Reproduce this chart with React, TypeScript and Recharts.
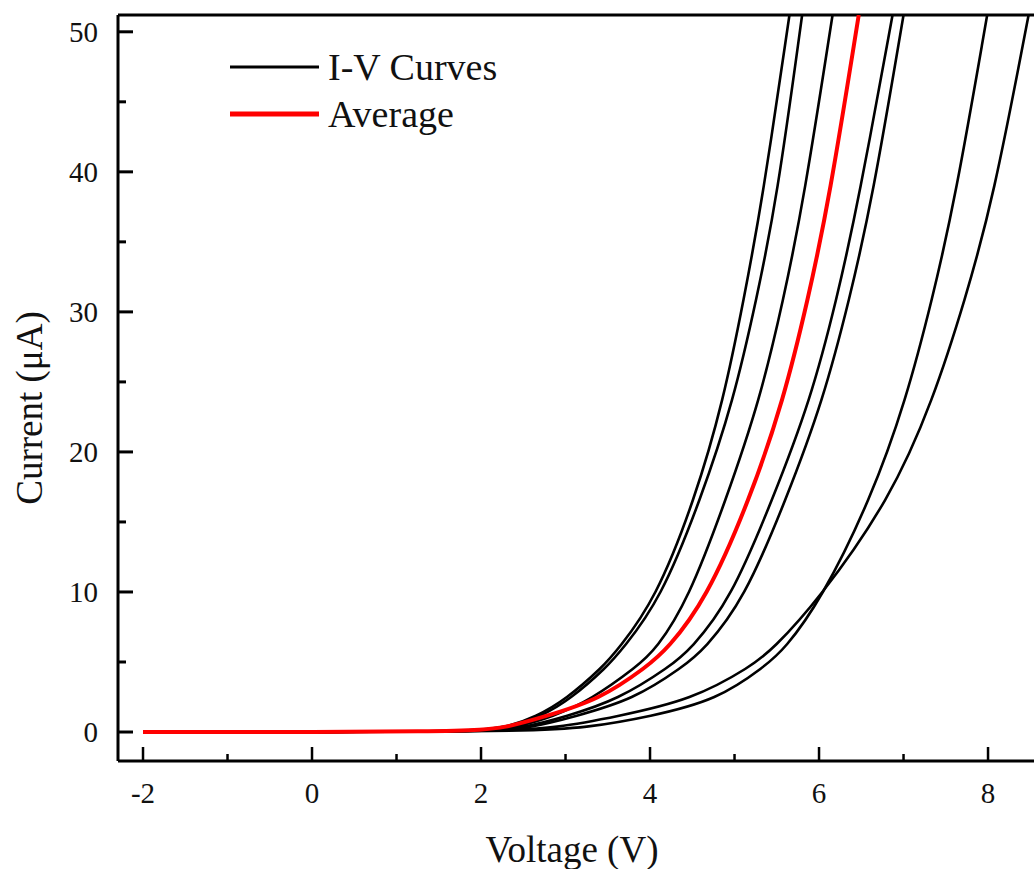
import { LineChart, Line, XAxis, YAxis, ReferenceLine, Label } from "recharts"

const currentLevels = [0, 0.3, 1.1, 2.3, 4.7, 5.9, 9.4, 16.6, 23.7, 30.9, 38, 51.2]

// voltage (V) of each device at the current levels above
const curveA = [1.8, 2.3, 2.65, 3.0, 3.45, 3.62, 4.06, 4.53, 4.87, 5.11, 5.33, 5.65]
const curveB = [1.8, 2.35, 2.7, 3.05, 3.5, 3.67, 4.12, 4.6, 4.99, 5.26, 5.5, 5.8]
const curveC = [1.9, 2.4, 2.85, 3.3, 3.85, 4.07, 4.45, 4.9, 5.3, 5.58, 5.82, 6.16]
const curveD = [2.0, 2.5, 3.0, 3.62, 4.24, 4.48, 4.95, 5.45, 5.9, 6.21, 6.47, 6.87]
const curveE = [2.0, 2.6, 3.1, 3.8, 4.4, 4.64, 5.11, 5.61, 6.05, 6.36, 6.63, 7.0]
const curveF = [2.2, 2.9, 3.6, 4.5, 5.2, 5.45, 5.99, 6.84, 7.35, 7.73, 8.06, 8.48]
const curveG = [2.5, 3.25, 4.0, 4.8, 5.36, 5.59, 6.02, 6.61, 7.03, 7.34, 7.61, 7.99]
const averageCurve = [1.8, 2.3, 2.75, 3.4, 3.97, 4.2, 4.66, 5.18, 5.58, 5.87, 6.12, 6.47]

const sweepStart = -2
const blackCurves = [curveA, curveB, curveC, curveD, curveE, curveF, curveG]

const xTicks = [-2, -1, 0, 1, 2, 3, 4, 5, 6, 7, 8]
const yTicks = [0, 5, 10, 15, 20, 25, 30, 35, 40, 45, 50]
const xDomain = [-2.296, 8.544]
const yDomain = [-2.07, 51.2]

const legendItems = [
  { label: "I-V Curves", color: "#000000", width: 3 },
  { label: "Average", color: "#ff0000", width: 5 },
]

const font = "'Liberation Serif', 'Times New Roman', serif"

function toPoints(volts: number[]) {
  return [{ v: sweepStart, i: 0 }, ...volts.map((v, k) => ({ v, i: currentLevels[k] }))]
}

function YTick(props: any) {
  const { x, y, payload } = props
  const major = payload.value % 10 === 0
  return (
    <g>
      <line x1={x} x2={x + (major ? 15 : 8)} y1={y} y2={y} stroke="#000" strokeWidth={3} />
      {major && (
        <text x={x - 20} y={y} textAnchor="end" dominantBaseline="central" fontSize={29} fontFamily={font} fill="#111">
          {payload.value}
        </text>
      )}
    </g>
  )
}

function XTick(props: any) {
  const { x, y, payload } = props
  const major = payload.value % 2 === 0
  return (
    <g>
      <line x1={x} x2={x} y1={y} y2={y - (major ? 14 : 7)} stroke="#000" strokeWidth={2.5} />
      {major && (
        <text x={x} y={y + 32} textAnchor="middle" dominantBaseline="central" fontSize={29} fontFamily={font} fill="#111">
          {payload.value}
        </text>
      )}
    </g>
  )
}

function LegendBox() {
  return (
    <svg width={320} height={110} style={{ position: "absolute", left: 220, top: 40, pointerEvents: "none" }}>
      {legendItems.map((item, k) => (
        <g key={item.label}>
          <line x1={10} x2={99} y1={27 + k * 47} y2={27 + k * 47} stroke={item.color} strokeWidth={item.width} />
          <text x={108} y={40 + k * 47} fontSize={38} fontFamily={font} fill="#111">
            {item.label}
          </text>
        </g>
      ))}
    </svg>
  )
}

export default function App() {
  return (
    <div style={{ position: "absolute", left: 0, top: 0, width: 1034, height: 869, background: "#fff" }}>
      <LineChart width={1034} height={869} margin={{ top: 15, right: 0, left: 0, bottom: 0 }}>
        <XAxis
          dataKey="v"
          type="number"
          domain={xDomain}
          allowDataOverflow
          ticks={xTicks}
          interval={0}
          tickSize={0}
          tickMargin={0}
          tickLine={false}
          tick={<XTick />}
          height={108}
          axisLine={{ stroke: "#000", strokeWidth: 3 }}
        >
          <Label
            content={(p: any) => (
              <text
                x={p.viewBox.x + p.viewBox.width / 2 - 4}
                y={862}
                textAnchor="middle"
                fontSize={37}
                fontFamily={font}
                fill="#111"
              >
                Voltage (V)
              </text>
            )}
          />
        </XAxis>
        <YAxis
          dataKey="i"
          type="number"
          domain={yDomain}
          allowDataOverflow
          ticks={yTicks}
          interval={0}
          tickSize={0}
          tickMargin={0}
          tickLine={false}
          tick={<YTick />}
          width={118}
          axisLine={{ stroke: "#000", strokeWidth: 3 }}
        >
          <Label
            content={() => (
              <text
                transform="translate(29,408) rotate(-90)"
                textAnchor="middle"
                dominantBaseline="central"
                fontSize={37}
                fontFamily={font}
                fill="#111"
              >
                Current (μA)
              </text>
            )}
          />
        </YAxis>
        <ReferenceLine y={yDomain[1]} stroke="#000" strokeWidth={3} />
        {blackCurves.map((c, k) => (
          <Line
            key={k}
            data={toPoints(c)}
            dataKey="i"
            type="basis"
            stroke="#000"
            strokeWidth={2.6}
            dot={false}
            isAnimationActive={false}
          />
        ))}
        <Line
          data={toPoints(averageCurve)}
          dataKey="i"
          type="basis"
          stroke="#ff0000"
          strokeWidth={4}
          dot={false}
          isAnimationActive={false}
        />
      </LineChart>
      <LegendBox />
    </div>
  )
}
